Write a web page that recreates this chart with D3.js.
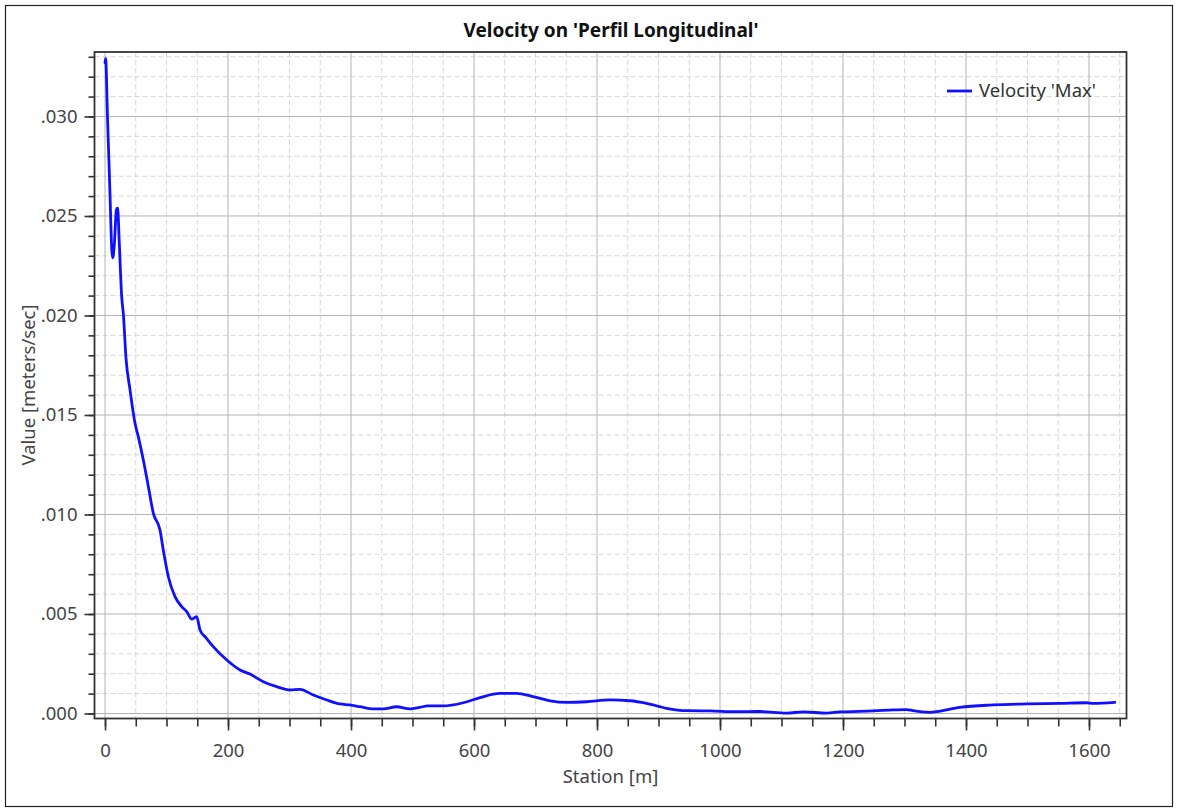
<!DOCTYPE html>
<html>
<head>
<meta charset="utf-8">
<script src="https://cdn.jsdelivr.net/npm/d3@7"></script>
<style>
  body { margin: 0; background: #fff; }
  svg { display: block; font-family: "Noto Sans", "Open Sans", sans-serif; }
</style>
</head>
<body>
<svg id="chart" width="1178" height="808"></svg>
<script>
const title = "Velocity on 'Perfil Longitudinal'";
const xLabel = "Station [m]";
const yLabel = "Value [meters/sec]";
const seriesName = "Velocity 'Max'";

const station = [0, 1, 4, 8, 11, 12.5, 15, 18.5, 20.5, 23, 27, 30, 34, 40.7, 48.8, 54.2, 62.3, 70.5, 78.6, 89.4, 94.8, 103, 113.8, 124.7, 132.8, 141, 149, 154.5, 165, 176, 198, 219.5, 235.8, 257.4, 279, 300.8, 317, 338.7, 360.5, 382, 398, 414.6, 436, 452.5, 474, 496, 512, 525, 550, 582.6, 610, 642, 669, 696, 723.6, 750.7, 783, 821, 853.7, 880.8, 913, 945.8, 983.7, 1027, 1065, 1108, 1135.5, 1173.5, 1195, 1249, 1282, 1303.5, 1314, 1341.5, 1352, 1390, 1444, 1498.6, 1552.8, 1596, 1607, 1642];
const velocity = [0.0327, 0.0329, 0.0300, 0.0262, 0.0233, 0.0229, 0.0235, 0.0253, 0.0254, 0.0238, 0.0210, 0.0200, 0.0179, 0.01626, 0.01458, 0.0139, 0.01274, 0.0114, 0.01006, 0.00922, 0.0082, 0.00687, 0.00587, 0.00537, 0.00512, 0.00474, 0.00487, 0.00420, 0.00378, 0.00336, 0.00269, 0.00219, 0.00198, 0.00160, 0.00135, 0.00118, 0.00121, 0.00093, 0.00068, 0.00048, 0.00043, 0.00034, 0.00023, 0.00023, 0.00034, 0.00023, 0.00031, 0.00038, 0.00038, 0.00054, 0.00080, 0.00101, 0.00101, 0.00085, 0.00064, 0.00056, 0.00059, 0.00068, 0.00064, 0.00051, 0.00026, 0.00014, 0.00013, 0.00009, 0.00010, 0.00002, 0.00008, 0.00002, 0.00008, 0.00013, 0.00018, 0.00020, 0.00014, 0.00006, 0.00009, 0.00031, 0.00043, 0.00048, 0.00051, 0.00054, 0.00051, 0.00056];

const xMajorTicks = [0, 200, 400, 600, 800, 1000, 1200, 1400, 1600];
const yMajorTicks = [0, 0.005, 0.010, 0.015, 0.020, 0.025, 0.030];

const svg = d3.select("#chart");
const plot = { left: 94.5, top: 52, right: 1126.5, bottom: 718.5 };
const FS = 18.5;

const x = d3.scaleLinear().domain([-17.1, 1661]).range([plot.left, plot.right]);
const y = d3.scaleLinear().domain([-0.000251, 0.03324]).range([plot.bottom, plot.top]);

const xMinor = d3.range(0, 1651, 50);
const yMinor = d3.range(0, 34).map(i => i * 0.001);

// outer border
svg.append("rect").attr("x", 5.5).attr("y", 5.5).attr("width", 1167).attr("height", 801)
  .attr("fill", "none").attr("stroke", "#222").attr("stroke-width", 1.2);

// title
svg.append("text").attr("x", 611).attr("y", 37).attr("text-anchor", "middle")
  .attr("font-size", 19).attr("font-weight", "bold").attr("fill", "#111").text(title);

const g = svg.append("g");

// minor dashed grid
g.selectAll("line.vminor").data(xMinor.filter(v => v % 200 !== 0)).enter().append("line")
  .attr("x1", d => x(d)).attr("x2", d => x(d)).attr("y1", plot.top).attr("y2", plot.bottom)
  .attr("stroke", "#d6d6d6").attr("stroke-dasharray", "5,3").attr("stroke-width", 1);
g.selectAll("line.hminor").data(yMinor.filter((v, i) => i % 5 !== 0)).enter().append("line")
  .attr("y1", d => y(d)).attr("y2", d => y(d)).attr("x1", plot.left).attr("x2", plot.right)
  .attr("stroke", "#d6d6d6").attr("stroke-dasharray", "5,3").attr("stroke-width", 1);
// major solid grid
g.selectAll("line.vmajor").data(xMajorTicks).enter().append("line")
  .attr("x1", d => x(d)).attr("x2", d => x(d)).attr("y1", plot.top).attr("y2", plot.bottom)
  .attr("stroke", "#b4b4b4").attr("stroke-width", 1);
g.selectAll("line.hmajor").data(yMajorTicks).enter().append("line")
  .attr("y1", d => y(d)).attr("y2", d => y(d)).attr("x1", plot.left).attr("x2", plot.right)
  .attr("stroke", "#b4b4b4").attr("stroke-width", 1);

// axes ticks
const fmtY = d => d3.format(".3f")(d).replace(/^0/, "");
const xAxisMinor = d3.axisBottom(x).tickValues(xMinor).tickSize(8).tickFormat("");
const xAxisMajor = d3.axisBottom(x).tickValues(xMajorTicks).tickSize(12).tickPadding(13).tickFormat(d3.format("d"));
const yAxisMinor = d3.axisLeft(y).tickValues(yMinor).tickSize(6).tickFormat("");
const yAxisMajor = d3.axisLeft(y).tickValues(yMajorTicks).tickSize(10).tickPadding(7).tickFormat(fmtY);

function styleAxis(sel) {
  sel.select(".domain").remove();
  sel.selectAll(".tick line").attr("stroke", "#333").attr("stroke-width", 1.6);
  sel.selectAll(".tick text").attr("fill", "#444").attr("font-size", FS)
    .attr("font-family", "'Noto Sans', 'Open Sans', sans-serif");
}
svg.append("g").attr("transform", `translate(0,${plot.bottom})`).call(xAxisMinor).call(styleAxis);
svg.append("g").attr("transform", `translate(0,${plot.bottom})`).call(xAxisMajor).call(styleAxis);
svg.append("g").attr("transform", `translate(${plot.left},0)`).call(yAxisMinor).call(styleAxis);
svg.append("g").attr("transform", `translate(${plot.left},0)`).call(yAxisMajor).call(styleAxis);

// data line
const data = station.map((s, i) => [s, velocity[i]]);
const line = d3.line().x(d => x(d[0])).y(d => y(d[1])).curve(d3.curveMonotoneX);
svg.append("path").datum(data).attr("d", line).attr("fill", "none")
  .attr("stroke", "#1010ff").attr("stroke-width", 2.8).attr("stroke-linejoin", "round").attr("stroke-linecap", "round");

// frame
svg.append("rect").attr("x", plot.left).attr("y", plot.top)
  .attr("width", plot.right - plot.left).attr("height", plot.bottom - plot.top)
  .attr("fill", "none").attr("stroke", "#333").attr("stroke-width", 1.8);

// axis labels
svg.append("text").attr("x", (plot.left + plot.right) / 2).attr("y", 783).attr("text-anchor", "middle")
  .attr("font-size", FS).attr("fill", "#444").text(xLabel);
svg.append("text").attr("transform", `translate(35,385) rotate(-90)`).attr("text-anchor", "middle")
  .attr("font-size", FS).attr("fill", "#444").text(yLabel);

// legend
const lg = svg.append("g");
lg.append("line").attr("x1", 947).attr("x2", 972).attr("y1", 91).attr("y2", 91)
  .attr("stroke", "#1010ff").attr("stroke-width", 2.8);
lg.append("text").attr("x", 979).attr("y", 97).attr("font-size", FS).attr("fill", "#333").text(seriesName);
</script>
</body>
</html>
